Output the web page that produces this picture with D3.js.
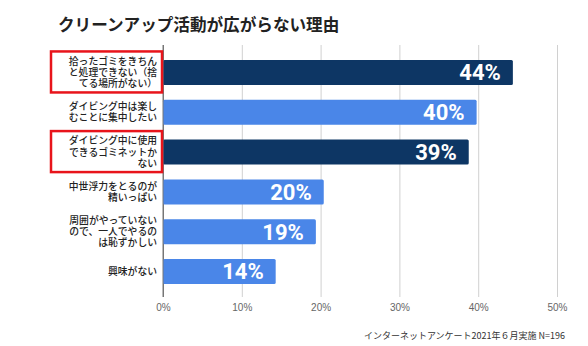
<!DOCTYPE html>
<html><head><meta charset="utf-8">
<script src="https://cdn.jsdelivr.net/npm/d3@7"></script>
<style>body{margin:0;background:#fff}svg{display:block}</style>
</head><body>
<svg id="c" width="588" height="346"></svg>
<script>
const title = "クリーンアップ活動が広がらない理由";
const categories = [
  ["拾ったゴミをきちん","と処理できない（捨","てる場所がない）"],
  ["ダイビング中は楽し","むことに集中したい"],
  ["ダイビング中に使用","できるゴミネットか","ない"],
  ["中世浮力をとるのが","精いっぱい"],
  ["周囲がやっていない","ので、一人でやるの","は恥ずかしい"],
  ["興味がない"]
];
const values = [44.4, 39.8, 38.8, 20.4, 19.4, 14.3];
const highlighted = [true, false, true, false, false, false];
const ticks = [0, 10, 20, 30, 40, 50];
const footnote = "インターネットアンケート2021年６月実施 N=196";

const svg = d3.select("#c");
const x = d3.scaleLinear().domain([0, 50]).range([163, 557]);
const y = d3.scaleBand().domain(d3.range(values.length)).range([46, 298]).paddingInner(0.372).paddingOuter(0.35);

svg.append("text").attr("x", 58).attr("y", 31)
  .attr("font-family", "'Noto Sans CJK JP', sans-serif").attr("font-weight", 700)
  .attr("font-size", 16.6).attr("fill", "#222").text(title);

// grid
const axis = d3.axisBottom(x).tickValues(ticks).tickSize(-(297-45)).tickFormat(d => d + "%");
const g = svg.append("g").attr("transform", "translate(0,297)").call(axis);
g.select(".domain").remove();
g.selectAll(".tick line").attr("stroke", d => d === 0 ? "#777" : "#d0d0d0");
g.selectAll(".tick text").attr("dy", 0).attr("y", 14)
  .attr("font-family", "Arial, 'Liberation Sans', sans-serif").attr("font-size", 10).attr("fill", "#666");

// bars
svg.selectAll("rect.bar").data(values).join("rect").attr("class", "bar")
  .attr("x", x(0)).attr("y", (d, i) => y(i))
  .attr("width", d => x(d) - x(0)).attr("height", y.bandwidth())
  .attr("rx", 1.5)
  .attr("fill", (d, i) => highlighted[i] ? "#0d3664" : "#4a86e8");

// axis line on top
svg.append("line").attr("x1", x(0)).attr("x2", x(0)).attr("y1", 45).attr("y2", 297).attr("stroke", "#777");

svg.selectAll("text.val").data(values).join("text").attr("class", "val")
  .attr("x", d => x(d) - 12).attr("y", (d, i) => y(i) + y.bandwidth() / 2)
  .attr("dy", "0.36em").attr("text-anchor", "end")
  .attr("font-family", "Roboto, sans-serif").attr("font-weight", 700).attr("font-size", 22)
  .attr("fill", "#fff").text(d => Math.round(d) + "%");

// category labels
const lh = 11.2;
categories.forEach((lines, i) => {
  const cy = y(i) + y.bandwidth() / 2;
  const t = svg.append("text").attr("text-anchor", "end")
    .attr("font-family", "'Noto Sans CJK JP', sans-serif").attr("font-weight", 500)
    .attr("font-size", 9.8).attr("fill", "#222");
  lines.forEach((s, k) => {
    t.append("tspan").attr("x", 157).attr("y", cy + (k - (lines.length - 1) / 2) * lh).attr("dy", "0.35em").text(s);
  });
  if (highlighted[i]) {
    const h = lines.length >= 3 ? 41 : 33;
    svg.append("rect").attr("x", 51).attr("y", cy - h / 2 - 0.5).attr("width", 111).attr("height", h)
      .attr("fill", "none").attr("stroke", "#e8141b").attr("stroke-width", 2.5);
  }
});

svg.append("text").attr("x", 565).attr("y", 339).attr("text-anchor", "end")
  .attr("font-family", "'Noto Sans CJK JP', sans-serif").attr("font-size", 9).attr("fill", "#333")
  .text(footnote);
</script>
</body></html>
